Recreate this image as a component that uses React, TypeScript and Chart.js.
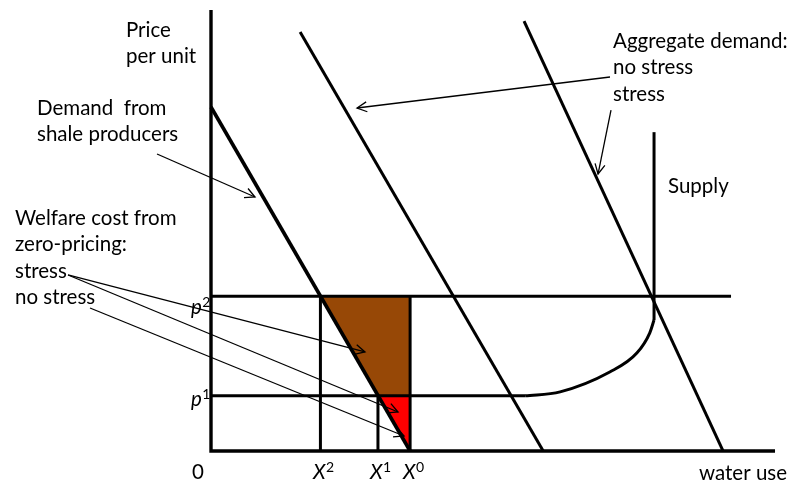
import React, { useEffect, useRef } from "react";
import { Chart, registerables } from "chart.js";

Chart.register(...registerables);

// ---- data (schematic units: quantity 0-100, price 0-100) ----
const priceLevels = { p1: 12.5, p2: 35.1 };
const quantities = { X2: 19.4, X1: 29.6, X0: 35.3 };

const shaleDemand = [
  { x: 0, y: 78 },
  { x: 35.3, y: 0 },
];
const aggregateNoStress = [
  { x: 15.8, y: 95.0 },
  { x: 58.9, y: 0 },
];
const aggregateStress = [
  { x: 55.5, y: 97.5 },
  { x: 90.78, y: 0 },
];
const p2Line = [
  { x: 0, y: 35.1 },
  { x: 92.2, y: 35.1 },
];
const p1Line = [
  { x: 0, y: 12.5 },
  { x: 55.7, y: 12.5 },
];
const supplyCurve = [
  { x: 55.7, y: 12.5 },
  { x: 61.9, y: 13.4 },
  { x: 70.7, y: 17.9 },
  { x: 75.5, y: 22.2 },
  { x: 77.8, y: 26.8 },
  { x: 78.55, y: 29.7 },
];
const supplyVertical = [
  { x: 78.55, y: 29.7 },
  { x: 78.55, y: 72.3 },
];
const axesLine = [
  { x: 0, y: 100 },
  { x: 0, y: 0 },
  { x: 100, y: 0 },
];
const welfareStressArea = [
  { x: 19.4, y: 35.1 },
  { x: 35.3, y: 35.1 },
  { x: 35.3, y: 12.5 },
  { x: 29.6, y: 12.5 },
  { x: 19.4, y: 35.1 },
];
const welfareNoStressArea = [
  { x: 29.6, y: 12.5 },
  { x: 35.3, y: 12.5 },
  { x: 35.3, y: 0 },
  { x: 29.6, y: 12.5 },
];
const verticalX2 = [
  { x: 19.4, y: 0 },
  { x: 19.4, y: 35.1 },
];
const verticalX1 = [
  { x: 29.6, y: 0 },
  { x: 29.6, y: 12.5 },
];
const verticalX0 = [
  { x: 35.3, y: 0 },
  { x: 35.3, y: 35.1 },
];

// annotation arrows: [start, tip]
const arrowShale = [
  { x: -9.57, y: 67.35 },
  { x: 7.8, y: 57.6 },
];
const arrowAggNoStress = [
  { x: 70.74, y: 84.81 },
  { x: 25.89, y: 77.78 },
];
const arrowAggStress = [
  { x: 70.92, y: 77.32 },
  { x: 68.62, y: 62.81 },
];
const arrowWelfareStressA = [
  { x: -25.35, y: 39.91 },
  { x: 27.3, y: 22.45 },
];
const arrowWelfareStressB = [
  { x: -25.35, y: 39.91 },
  { x: 33.16, y: 8.84 },
];
const arrowWelfareNoStress = [
  { x: -21.45, y: 32.43 },
  { x: 34.22, y: 3.4 },
];

// ---- text ----
const labelPrice = ["Price", "per unit"];
const labelShale = ["Demand  from", "shale producers"];
const labelWelfare = ["Welfare cost from", "zero-pricing:", "stress", "no stress"];
const labelAggregate = ["Aggregate demand:", "no stress", "stress"];
const labelSupply = ["Supply"];
const labelXAxis = "water use";
const labelOrigin = "0";
const priceTickLabels = [
  { base: "p", sup: "2" },
  { base: "p", sup: "1" },
];
const quantityTickLabels = [
  { base: "X", sup: "2" },
  { base: "X", sup: "1" },
  { base: "X", sup: "0" },
];

// ---- layout (data-unit positions of text anchors) ----
const X_MIN = -37.41;
const X_MAX = 103.01;
const Y_MIN = -7.26;
const Y_MAX = 102.27;
const FONT = "Lato";
const FONT_SIZE = 20.5;
const LINE_H = 26.3;

const textBlocks = [
  { lines: labelPrice, x: -15.07, y: 93.88 },
  { lines: labelShale, x: -30.85, y: 76.19 },
  { lines: labelWelfare, x: -34.75, y: 51.25 },
  { lines: labelAggregate, x: 71.28, y: 91.38 },
  { lines: labelSupply, x: 81.03, y: 58.5 },
];
const priceTickPos = [
  { x: -3.55, y: 31.07 },
  { x: -3.55, y: 10.2 },
];
const quantityTickPos = [
  { x: 18.09, y: -6.35 },
  { x: 28.19, y: -6.35 },
  { x: 34.04, y: -6.35 },
];

const arrowIds = [
  "arrowShale",
  "arrowAggNoStress",
  "arrowAggStress",
  "arrowWelfareStressA",
  "arrowWelfareStressB",
  "arrowWelfareNoStress",
];

const arrowPlugin = {
  id: "arrowHeads",
  afterDatasetsDraw(chart: any) {
    const ctx = chart.ctx;
    chart.data.datasets.forEach((ds: any, i: number) => {
      if (!arrowIds.includes(ds.label)) return;
      const meta = chart.getDatasetMeta(i);
      const a = meta.data[0];
      const b = meta.data[1];
      const ang = Math.atan2(b.y - a.y, b.x - a.x);
      const len = 11;
      const spread = (27 * Math.PI) / 180;
      ctx.save();
      ctx.strokeStyle = "#000";
      ctx.lineWidth = 1.3;
      ctx.beginPath();
      ctx.moveTo(b.x - len * Math.cos(ang - spread), b.y - len * Math.sin(ang - spread));
      ctx.lineTo(b.x, b.y);
      ctx.lineTo(b.x - len * Math.cos(ang + spread), b.y - len * Math.sin(ang + spread));
      ctx.stroke();
      ctx.restore();
    });
  },
};

const textPlugin = {
  id: "texts",
  afterDraw(chart: any) {
    const ctx = chart.ctx;
    const xs = chart.scales.x;
    const ys = chart.scales.y;
    ctx.save();
    ctx.fillStyle = "#000";
    ctx.textBaseline = "alphabetic";
    ctx.textAlign = "left";
    ctx.font = `${FONT_SIZE}px ${FONT}`;
    textBlocks.forEach((b) => {
      const px = xs.getPixelForValue(b.x);
      const py = ys.getPixelForValue(b.y);
      b.lines.forEach((t, k) => ctx.fillText(t, px, py + k * LINE_H));
    });
    // origin and x-axis title
    ctx.fillText(labelOrigin, xs.getPixelForValue(-3.37), ys.getPixelForValue(-6.35));
    ctx.textAlign = "right";
    ctx.fillText(labelXAxis, xs.getPixelForValue(102.13), ys.getPixelForValue(-6.58));
    ctx.textAlign = "left";

    const drawSup = (lab: { base: string; sup: string }, pos: { x: number; y: number }) => {
      const px = xs.getPixelForValue(pos.x);
      const py = ys.getPixelForValue(pos.y);
      ctx.font = `italic ${FONT_SIZE}px ${FONT}`;
      ctx.fillText(lab.base, px, py);
      const w = ctx.measureText(lab.base).width;
      ctx.font = `${Math.round(FONT_SIZE * 0.66)}px ${FONT}`;
      ctx.fillText(lab.sup, px + w + 0.5, py - 7);
    };
    priceTickLabels.forEach((l, i) => drawSup(l, priceTickPos[i]));
    quantityTickLabels.forEach((l, i) => drawSup(l, quantityTickPos[i]));
    ctx.restore();
  },
};

const App = () => {
  const ref = useRef<HTMLCanvasElement>(null);
  useEffect(() => {
    const canvas = ref.current;
    if (!canvas) return;
    const line = (label: string, data: any[], width: number, extra: any = {}) => ({
      label,
      data,
      showLine: true,
      borderColor: "#000",
      borderWidth: width,
      pointRadius: 0,
      fill: false,
      order: 0,
      ...extra,
    });
    const area = (label: string, data: any[], color: string) => ({
      label,
      data,
      showLine: true,
      borderColor: "rgba(0,0,0,0)",
      borderWidth: 0,
      backgroundColor: color,
      pointRadius: 0,
      fill: "shape",
      order: 10,
    });
    const chart = new Chart(canvas, {
      type: "scatter",
      data: {
        datasets: [
          area("welfareStress", welfareStressArea, "#974806"),
          area("welfareNoStress", welfareNoStressArea, "#FF0000"),
          line("axes", axesLine, 3.4),
          line("p2", p2Line, 3),
          line("p1", p1Line, 3),
          line("supplyCurve", supplyCurve, 3, { cubicInterpolationMode: "monotone" }),
          line("supplyVertical", supplyVertical, 3),
          line("X2", verticalX2, 3),
          line("X1", verticalX1, 3),
          line("X0", verticalX0, 3),
          line("aggregateNoStress", aggregateNoStress, 3),
          line("aggregateStress", aggregateStress, 3),
          line("shaleDemand", shaleDemand, 3.6),
          line("arrowShale", arrowShale, 1.3),
          line("arrowAggNoStress", arrowAggNoStress, 1.3),
          line("arrowAggStress", arrowAggStress, 1.3),
          line("arrowWelfareStressA", arrowWelfareStressA, 1.3),
          line("arrowWelfareStressB", arrowWelfareStressB, 1.3),
          line("arrowWelfareNoStress", arrowWelfareNoStress, 1.3),
        ],
      },
      options: {
        responsive: false,
        animation: false,
        events: [],
        layout: { padding: 0 },
        plugins: {
          legend: { display: false },
          tooltip: { enabled: false },
        },
        scales: {
          x: { type: "linear", min: X_MIN, max: X_MAX, display: false },
          y: { type: "linear", min: Y_MIN, max: Y_MAX, display: false },
        },
      },
      plugins: [arrowPlugin, textPlugin],
    } as any);
    return () => chart.destroy();
  }, []);
  return (
    <div style={{ position: "absolute", left: 0, top: 0, width: 792, height: 483, background: "#fff" }}>
      <canvas ref={ref} width={792} height={483} style={{ display: "block" }} />
    </div>
  );
};

export default App;
